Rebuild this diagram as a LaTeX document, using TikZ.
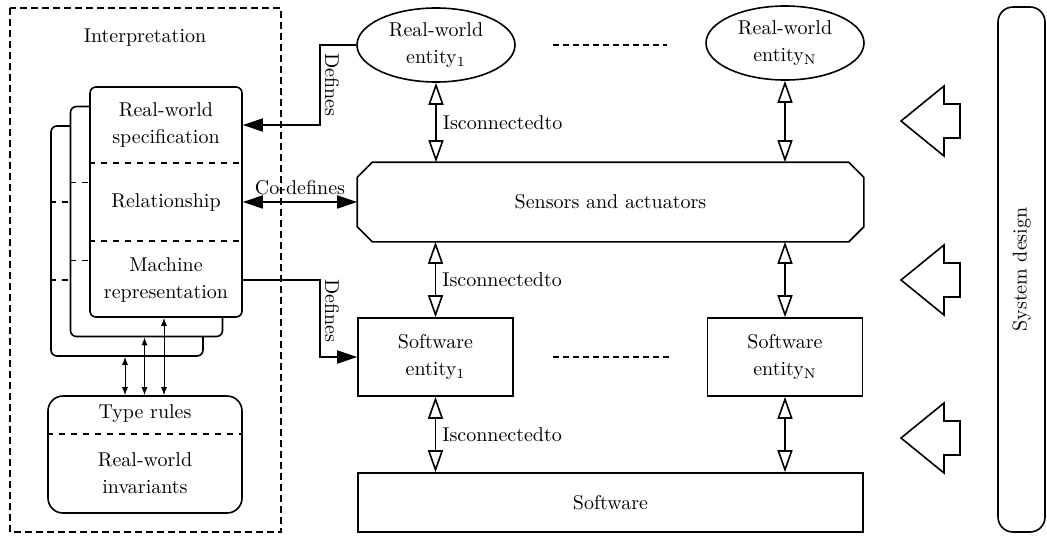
\documentclass[tikz,border=0pt]{standalone}
\usepackage{tikz}
\usetikzlibrary{arrows.meta}
\usetikzlibrary{shapes.geometric}
\usetikzlibrary{positioning}

\begin{document}
\begin{tikzpicture}[x=0.5pt, y=-0.5pt, line width=0.8pt,
    nodes={font=\fontsize{10}{13.5}\selectfont, align=center, inner sep=2pt},
    card/.style={draw, fill=white, rounded corners=3pt, minimum width=76pt,
      minimum height=115pt},
    entity/.style={draw, ellipse, minimum width=79pt, minimum height=37pt,
      inner sep=0pt},
    swbox/.style={draw, minimum width=77.5pt, minimum height=39pt},
    conn/.style={{Triangle[open, length=11pt, width=7.5pt]}-{Triangle[open, length=11pt, width=7.5pt]}},
    defines/.style={-{Triangle[length=10pt, width=6.5pt]}},
    codef/.style={{Triangle[length=10pt, width=6.5pt]}-{Triangle[length=10pt, width=6.5pt]}},
    tiny/.style={line width=0.5pt, {Latex[length=4pt, width=3pt]}-{Latex[length=4pt, width=3pt]}},
    dots/.style={line width=0.6pt, dash pattern=on 3pt off 2pt}]
  \useasboundingbox (0,0) rectangle (1047,536);

  % interpretation frame
  \draw[dash pattern=on 3.5pt off 2pt] (10,8) rectangle (281,532);
  \node (interp) at (145,38) {Interpretation};

  % stacked cards, the front one last
  \foreach \i in {2,1,0}{
    \begin{scope}[shift={(-19.5*\i,19.5*\i)}]
      \node[card] (card\i) at (166,202) {};
      \draw[dashed] ([yshift=19.5pt]card\i.west) -- ([yshift=19.5pt]card\i.east);
      \draw[dashed] ([yshift=-19.5pt]card\i.west) -- ([yshift=-19.5pt]card\i.east);
    \end{scope}
  }
  \node (spec) at (166,125) {Real-world\\specification};
  \node (rel) at (166,202) {Relationship};
  \node (mach) at (166,280) {Machine\\representation};

  % type rules
  \node[draw, rounded corners=7.5pt, minimum width=97pt, minimum height=58.5pt]
    (rules) at (145,454.5) {};
  \draw[dashed] ([yshift=10.25pt]rules.west) -- ([yshift=10.25pt]rules.east);
  \node (typer) at ([yshift=20.25pt]rules.center) {Type rules};
  \node (invar) at ([yshift=-9.25pt]rules.center) {Real-world\\invariants};
  \foreach \i in {0,1,2}
    \draw[tiny] ([xshift=-1pt]card\i.south) -- ([xshift=-1pt]card\i.south |- rules.north);

  % entities
  \node[entity] (ent1) at (436,45) {Real-world\\entity$_1$};
  \node[entity] (entN) at (785,43) {Real-world\\entity$_\mathrm{N}$};
  \draw[dots] ([xshift=18.5pt]ent1.east) -- ([xshift=-19pt]entN.west |- ent1.east);

  \node[minimum width=252.5pt, minimum height=39pt] (sens) at (610.5,202) {Sensors and actuators};
  \draw ([xshift=7.5pt]sens.north west) -- ([xshift=-7.5pt]sens.north east)
    -- ([yshift=-7.5pt]sens.north east) -- ([yshift=7.5pt]sens.south east)
    -- ([xshift=-7.5pt]sens.south east) -- ([xshift=7.5pt]sens.south west)
    -- ([yshift=7.5pt]sens.south west) -- ([yshift=-7.5pt]sens.north west) -- cycle;

  \node[swbox] (sw1) at (435.5,357) {Software\\entity$_1$};
  \node[swbox] (swN) at (785,357) {Software\\entity$_\mathrm{N}$};
  \draw[dots] ([xshift=19.5pt]sw1.east) -- ([xshift=-19pt]swN.west);

  \node[draw, minimum width=252.5pt, minimum height=29.5pt] (soft) at (610.5,502.5) {Software};

  % is connected to
  \draw[conn] (ent1.south) -- (ent1.south |- sens.north)
    node[midway, right=1pt] {Isconnectedto};
  \draw[conn] (sw1.north) -- (sw1.north |- sens.south)
    node[midway, right=1pt] {Isconnectedto};
  \draw[conn] (sw1.south) -- (sw1.south |- soft.north)
    node[midway, right=1pt] {Isconnectedto};
  \draw[conn] (entN.south) -- (entN.south |- sens.north);
  \draw[conn] (swN.north) -- (swN.north |- sens.south);
  \draw[conn] (swN.south) -- (swN.south |- soft.north);

  % defines
  \coordinate (rail) at (320,0);
  \coordinate (specR) at ([yshift=38.5pt]card0.east);
  \coordinate (machR) at ([yshift=-39pt]card0.east);
  \draw[defines] (ent1.west) -| (specR -| rail)
    node[pos=0.75, sloped, above=0pt] {Defines} -- (specR);
  \draw[defines] (machR) -| (rail |- sw1.west)
    node[pos=0.7, sloped, above=0pt] {Defines} -- (sw1.west);
  \draw[codef] (card0.east) -- (sens.west) node[midway, above=1pt] {Co-defines};

  % system design
  \foreach \y in {121,280,438}
    \draw (901,\y) -- (944,\y-35) -- (944,\y-17) -- (960,\y-17)
      -- (960,\y+17) -- (944,\y+17) -- (944,\y+35) -- cycle;
  \node[draw, rounded corners=7.5pt, minimum width=23.5pt, minimum height=262.5pt]
    (sysd) at (1021.5,269.5) {};
  \node[rotate=90] (sysname) at (sysd) {System design};
\end{tikzpicture}
\end{document}
